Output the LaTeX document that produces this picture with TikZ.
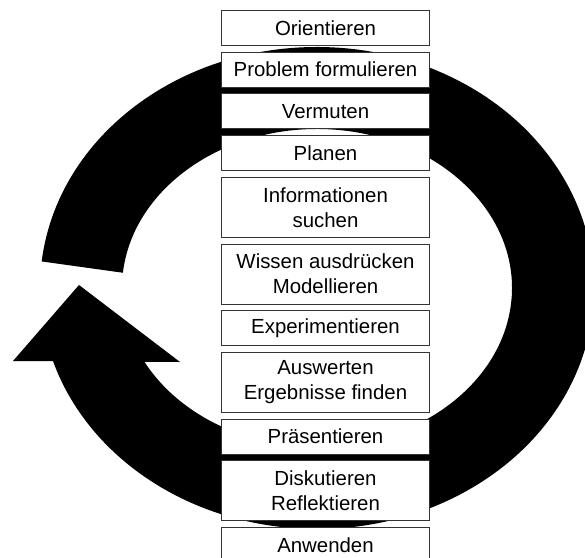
\documentclass[tikz,border=0pt]{standalone}
\usepackage{fontspec}
\setmainfont{Liberation Sans}
\usetikzlibrary{positioning,calc}
\tikzset{
  stage/.style    = {draw=black!80, line width=0.5pt, fill=white, align=center,
                     minimum width=104pt, minimum height=17.5pt, inner sep=2pt,
                     font=\fontsize{10.2}{12.5}\selectfont},
  stagetwo/.style = {stage, minimum height=30pt},
  ring/.style     = {draw=black, line width=41pt},
  ringhead/.style = {fill=black},
}
\begin{document}
\begin{tikzpicture}[x=0.5pt, y=0.5pt, node distance=2.85pt]
  \useasboundingbox (0,0) rectangle (585,-558);
  \clip (0,0) rectangle (585,-558);
  % cycle arrow behind the phases
  \coordinate (ctr) at (317,-288);
  \draw[ring] ($(ctr)+(174:236 and 200)$)
    arc[start angle=174, end angle=-165, x radius=118pt, y radius=100pt];
  \fill[ringhead] (13,-361) -- (180,-362) -- (79,-285) -- cycle;
  % phases
  \node[stage] (s1) at (325.5,-28) {Orientieren};
  \node[stage, below=of s1] (s2) {Problem formulieren};
  \node[stage, below=of s2] (s3) {Vermuten};
  \node[stage, below=of s3] (s4) {Planen};
  \node[stagetwo, below=of s4] (s5) {Informationen\\suchen};
  \node[stagetwo, below=of s5] (s6) {Wissen ausdrücken\\Modellieren};
  \node[stage, below=of s6] (s7) {Experimentieren};
  \node[stagetwo, below=of s7] (s8) {Auswerten\\Ergebnisse finden};
  \node[stage, below=of s8] (s9) {Präsentieren};
  \node[stagetwo, below=of s9] (s10) {Diskutieren\\Reflektieren};
  \node[stage, below=of s10] (s11) {Anwenden};
\end{tikzpicture}
\end{document}
